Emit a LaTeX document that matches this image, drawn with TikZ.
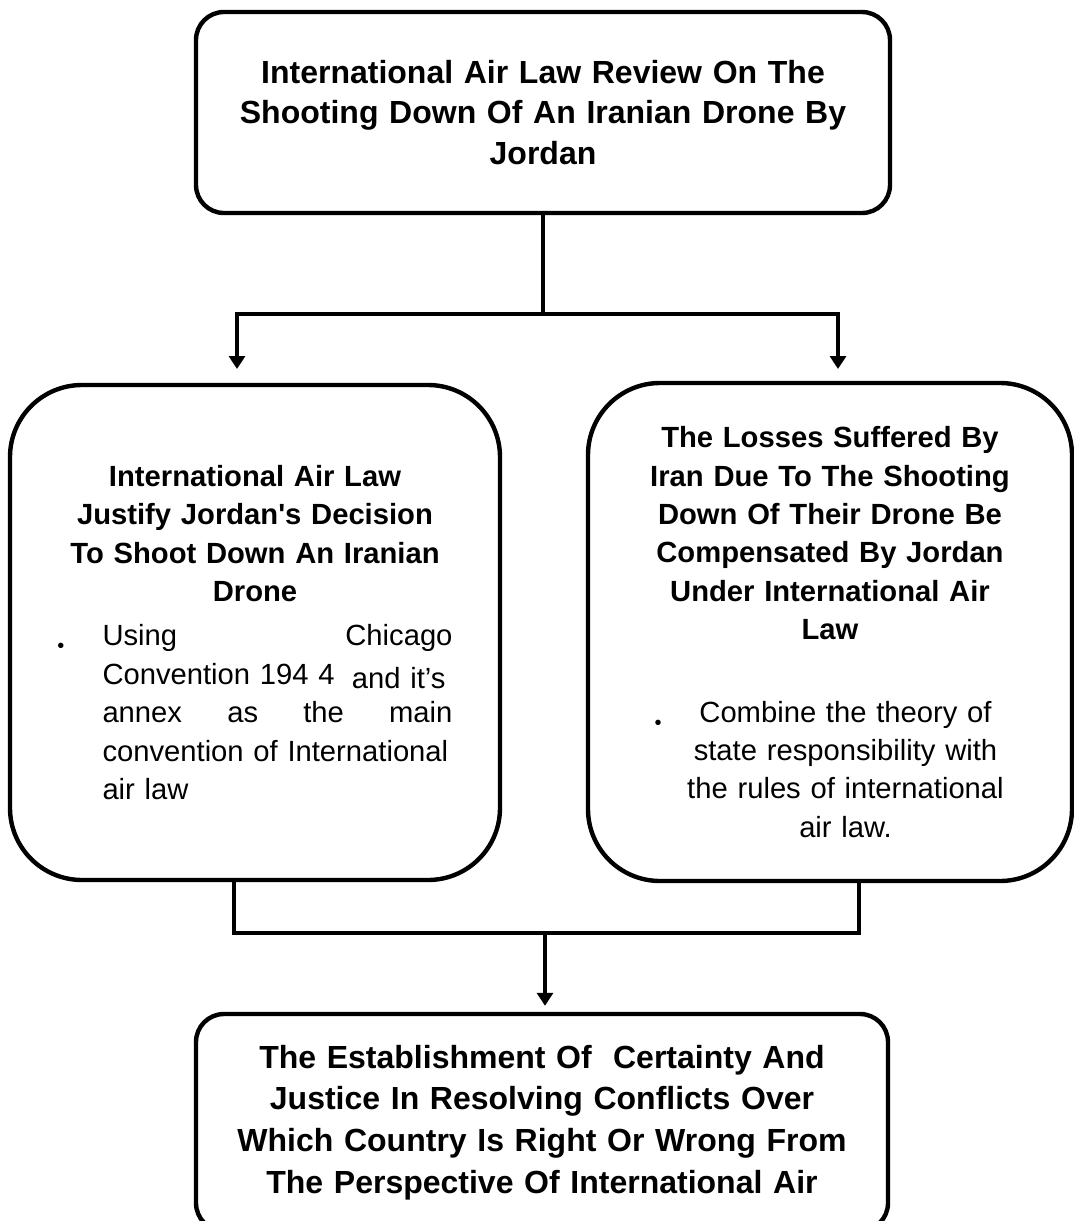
\documentclass[tikz,border=0pt]{standalone}
\usepackage{fontspec}
\setmainfont{Liberation Sans}
\usetikzlibrary{arrows.meta}
\tikzset{
  box/.style={draw, line width=2.2pt, align=center, inner sep=0pt},
  mainbox/.style={box, rounded corners=14pt, text width=330pt,
    font=\bfseries\fontsize{16}{20.25}\selectfont},
  sidebox/.style={box, rounded corners=36pt, text width=225pt,
    font=\fontsize{14.6}{19.2}\selectfont},
  link/.style={line width=1.6pt},
  arrow/.style={link, -{Triangle[length=6.5pt,width=8pt]}},
}
\newcommand{\dotmark}{\raisebox{-3.5pt}{\fontsize{10}{10}\selectfont\textbullet}}
\begin{document}
\begin{tikzpicture}[x=0.5pt,y=-0.5pt]
  \useasboundingbox (0,0) rectangle (1074,1221);
  \node[mainbox, minimum width=347pt, minimum height=100.5pt] (review) at (543,112.5)
    {International Air Law Review On The\\ Shooting Down Of An Iranian Drone By\\ Jordan};
  \node[sidebox, minimum width=245pt, minimum height=247.5pt] (justify) at (255,632.5)
    {{\bfseries International Air Law\\ Justify Jordan\textquotesingle s Decision\\ To Shoot Down An Iranian\\ Drone}\\[3pt]
     \dotmark\hspace{19pt}\parbox[t]{175pt}{Using\hfill Chicago\\
       Convention 194 4\hfill\raisebox{-2pt}{and it’s}\hspace*{3.5pt}\\
       annex\hfill as\hfill the\hfill main\\
       convention of International\\
       air law}};
  \node[sidebox, minimum width=242pt, minimum height=249pt] (losses) at (830,632)
    {{\bfseries The Losses Suffered By\\ Iran Due To The Shooting\\ Down Of Their Drone Be\\ Compensated By Jordan\\ Under International Air\\ Law}\\[22pt]
     \dotmark\hspace{12pt}\parbox[t]{160pt}{\centering Combine the theory of\\
       state responsibility with\\
       the rules of international\\
       air law.}};
  \node[mainbox, font=\bfseries\fontsize{16}{20.8}\selectfont, minimum width=346pt, minimum height=108.5pt] (outcome) at (542,1122.5)
    {The Establishment Of~ Certainty And\\ Justice In Resolving Conflicts Over\\ Which Country Is Right Or Wrong From\\ The Perspective Of International Air};

  \coordinate (split) at (543,314);
  \coordinate (lefttip) at (237,369);
  \coordinate (righttip) at (838,369);
  \coordinate (leftfoot) at (234,933);
  \coordinate (rightfoot) at (859,933);
  \coordinate (merge) at (545,933);

  \draw[link] (review.south) -- (split);
  \draw[arrow] (split) -| (lefttip);
  \draw[arrow] (split) -| (righttip);
  \draw[link] (leftfoot |- justify.south) -- (leftfoot) -- (rightfoot) -- (rightfoot |- losses.south);
  \draw[arrow, shorten >=3pt] (merge) -- (merge |- outcome.north);
\end{tikzpicture}
\end{document}
